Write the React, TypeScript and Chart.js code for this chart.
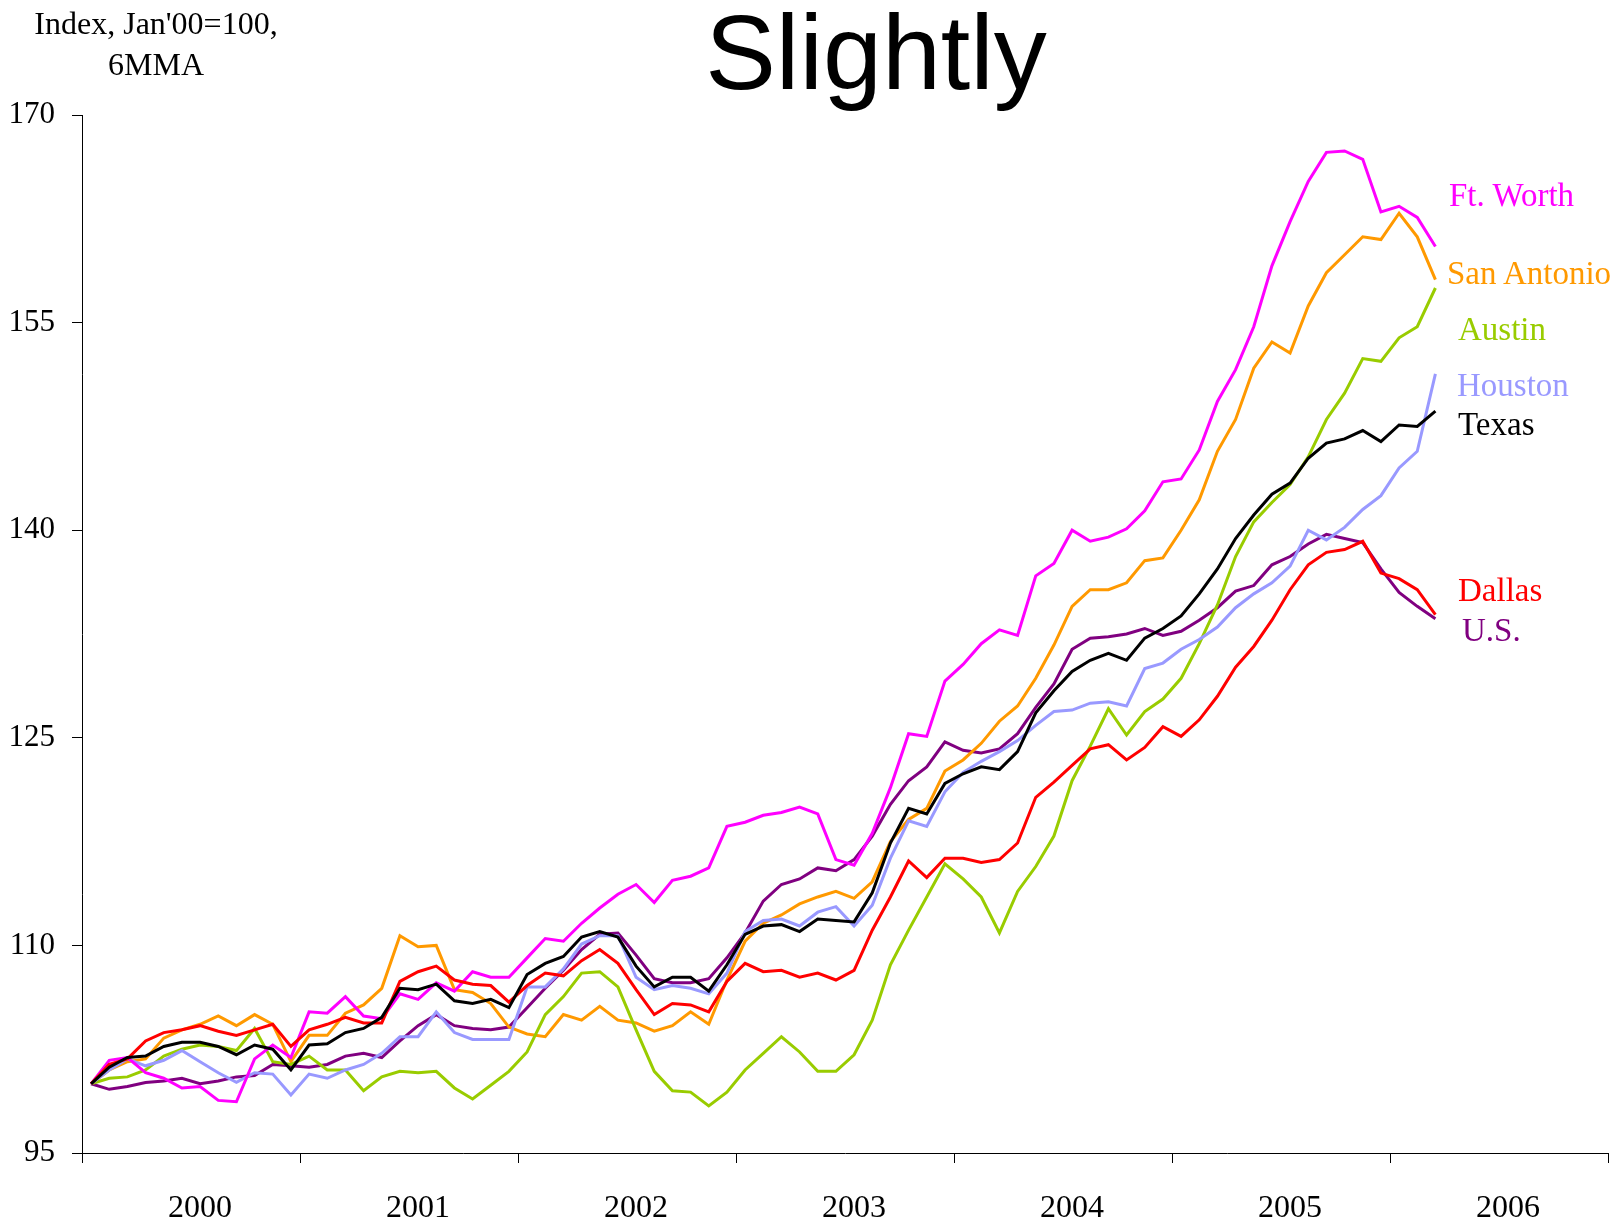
import React, { useEffect, useRef } from "react";
import { Chart, registerables } from "chart.js";

Chart.register(...registerables);

// ---- data (Index, Jan'00 = 100, 6-month moving average), monthly Jan 2000 .. Mar 2006 ----
const years = ["2000", "2001", "2002", "2003", "2004", "2005", "2006"];
const yMin = 95;
const yMax = 170;
const yStep = 15;

const texas = [
  100.0, 101.2, 101.9, 102.0, 102.7, 103.0, 103.0, 102.7, 102.1, 102.8,
  102.5, 101.0, 102.8, 102.9, 103.7, 104.0, 104.8, 106.9, 106.8, 107.2,
  106.0, 105.8, 106.1, 105.5, 107.9, 108.7, 109.2, 110.6, 111.0, 110.6,
  108.5, 107.0, 107.7, 107.7, 106.7, 108.6, 110.8, 111.4, 111.5, 111.0,
  111.9, 111.8, 111.7, 113.8, 117.4, 119.9, 119.5, 121.7, 122.4, 122.9,
  122.7, 124.0, 126.8, 128.4, 129.8, 130.6, 131.1, 130.6, 132.2, 132.9,
  133.8, 135.4, 137.2, 139.4, 141.1, 142.6, 143.4, 145.2, 146.3, 146.6,
  147.2, 146.4, 147.6, 147.5, 148.6,
];

const dallas = [
  100.0, 101.4, 101.8, 103.1, 103.7, 103.9, 104.2, 103.8, 103.5, 103.9,
  104.3, 102.7, 103.9, 104.3, 104.8, 104.4, 104.4, 107.4, 108.1, 108.5,
  107.5, 107.2, 107.1, 105.9, 107.1, 108.0, 107.8, 108.9, 109.7, 108.7,
  106.8, 105.0, 105.8, 105.7, 105.2, 107.4, 108.7, 108.1, 108.2, 107.7,
  108.0, 107.5, 108.2, 111.1, 113.5, 116.1, 114.9, 116.3, 116.3, 116.0,
  116.2, 117.4, 120.7, 121.8, 123.0, 124.2, 124.5, 123.4, 124.3, 125.8,
  125.1, 126.3, 128.0, 130.1, 131.6, 133.5, 135.7, 137.5, 138.4, 138.6,
  139.2, 136.9, 136.5, 135.7, 133.9,
];

const ftWorth = [
  100.0, 101.7, 101.9, 100.8, 100.4, 99.7, 99.8, 98.8, 98.7, 101.8,
  102.8, 101.9, 105.2, 105.1, 106.3, 104.9, 104.7, 106.5, 106.1, 107.3,
  106.7, 108.1, 107.7, 107.7, 109.1, 110.5, 110.3, 111.6, 112.7, 113.7,
  114.4, 113.1, 114.7, 115.0, 115.6, 118.6, 118.9, 119.4, 119.6, 120.0,
  119.5, 116.2, 115.8, 118.1, 121.4, 125.3, 125.1, 129.1, 130.3, 131.8,
  132.8, 132.4, 136.7, 137.6, 140.0, 139.2, 139.5, 140.1, 141.4, 143.5,
  143.7, 145.8, 149.3, 151.6, 154.7, 159.1, 162.3, 165.2, 167.3, 167.4,
  166.8, 163.0, 163.4, 162.6, 160.5,
];

const houston = [
  100.0, 101.0, 101.8, 101.3, 101.7, 102.4, 101.6, 100.8, 100.1, 100.8,
  100.7, 99.2, 100.7, 100.4, 101.0, 101.4, 102.2, 103.4, 103.4, 105.2,
  103.7, 103.2, 103.2, 103.2, 107.0, 107.0, 108.3, 110.1, 110.7, 110.7,
  107.7, 106.8, 107.1, 106.9, 106.5, 108.0, 111.0, 111.8, 111.9, 111.4,
  112.4, 112.8, 111.4, 112.9, 116.3, 119.0, 118.6, 121.1, 122.5, 123.3,
  124.0, 124.8, 125.9, 126.9, 127.0, 127.5, 127.6, 127.3, 130.0, 130.4,
  131.4, 132.1, 133.0, 134.4, 135.4, 136.2, 137.4, 140.0, 139.3, 140.2,
  141.5, 142.5, 144.5, 145.7, 151.3,
];

const austin = [
  100.0, 100.4, 100.5, 101.0, 102.0, 102.5, 102.8, 102.7, 102.4, 104.0,
  101.6, 101.4, 102.0, 101.0, 101.0, 99.5, 100.5, 100.9, 100.8, 100.9,
  99.7, 98.9, 99.9, 100.9, 102.3, 105.0, 106.3, 108.0, 108.1, 107.0,
  103.9, 100.9, 99.5, 99.4, 98.4, 99.4, 101.0, 102.2, 103.4, 102.3,
  100.9, 100.9, 102.1, 104.6, 108.6, 111.1, 113.5, 115.9, 114.8, 113.5,
  110.9, 113.9, 115.7, 117.9, 121.9, 124.4, 127.1, 125.2, 126.9, 127.8,
  129.3, 131.8, 134.6, 138.1, 140.6, 142.0, 143.3, 145.3, 148.0, 149.9,
  152.4, 152.2, 153.9, 154.7, 157.5,
];

const sanAntonio = [
  100.0, 101.0, 101.6, 101.8, 103.3, 103.9, 104.3, 104.9, 104.2, 105.0,
  104.3, 101.6, 103.5, 103.5, 105.1, 105.7, 106.9, 110.7, 109.9, 110.0,
  106.8, 106.6, 105.8, 104.1, 103.6, 103.4, 105.0, 104.6, 105.6, 104.6,
  104.4, 103.8, 104.2, 105.2, 104.3, 107.5, 110.3, 111.6, 112.2, 113.0,
  113.5, 113.9, 113.4, 114.6, 117.5, 119.1, 119.9, 122.6, 123.4, 124.6,
  126.2, 127.3, 129.3, 131.7, 134.5, 135.7, 135.7, 136.2, 137.8, 138.0,
  140.0, 142.2, 145.7, 148.0, 151.7, 153.6, 152.8, 156.2, 158.6, 159.9,
  161.2, 161.0, 162.9, 161.2, 158.1,
];

const us = [
  100.0, 99.6, 99.8, 100.1, 100.2, 100.4, 100.0, 100.2, 100.5, 100.6,
  101.4, 101.3, 101.2, 101.4, 102.0, 102.2, 101.9, 103.1, 104.2, 105.0,
  104.2, 104.0, 103.9, 104.1, 105.5, 106.9, 108.2, 109.7, 110.8, 110.9,
  109.3, 107.6, 107.3, 107.3, 107.6, 109.1, 110.9, 113.2, 114.4, 114.8,
  115.6, 115.4, 116.2, 117.9, 120.2, 121.9, 122.9, 124.7, 124.1, 123.9,
  124.2, 125.3, 127.2, 128.9, 131.4, 132.2, 132.3, 132.5, 132.9, 132.4,
  132.7, 133.5, 134.4, 135.6, 136.0, 137.5, 138.1, 139.0, 139.7, 139.4,
  139.1, 137.2, 135.5, 134.5, 133.6,
];

const seriesNames = ["Texas", "Dallas", "Ft. Worth", "Houston", "Austin", "San Antonio", "U.S."];
const seriesValues = [texas, dallas, ftWorth, houston, austin, sanAntonio, us];
const seriesColors = ["#000000", "#FF0000", "#FF00FF", "#9999FF", "#99CC00", "#FF9900", "#800080"];

// ---- layout / styling (pixels) ----
const W = 1614;
const H = 1219;
const PLOT_LEFT = 82;
const PLOT_RIGHT = 1608;
const PLOT_TOP = 115;
const PLOT_BOTTOM = 1153;
const SERIF = "'Liberation Serif', 'Times New Roman', Times, serif";
const SANS = "'Liberation Sans', Arial, Helvetica, sans-serif";

// label placement (left, baseline) per series, same order as seriesNames
const labelPos: [number, number][] = [
  [1458, 436], // Texas
  [1458, 602], // Dallas
  [1449, 207], // Ft. Worth
  [1457, 397], // Houston
  [1458, 341], // Austin
  [1447, 285], // San Antonio
  [1462, 642], // U.S.
];
const LABEL_SIZE = 33;

export default function App() {
  const canvasRef = useRef<HTMLCanvasElement | null>(null);

  useEffect(() => {
    const canvas = canvasRef.current;
    if (!canvas) return;
    const monthsTotal = years.length * 12;
    const halfMonthPx = (PLOT_RIGHT - PLOT_LEFT) / monthsTotal / 2;
    const chart = new Chart(canvas, {
      type: "line",
      data: {
        labels: years,
        datasets: seriesNames.map((name, k) => ({
          label: name,
          data: seriesValues[k].map((v, i) => ({ x: i + 0.5, y: v })),
          borderColor: seriesColors[k],
          backgroundColor: seriesColors[k],
          borderWidth: 3,
          pointRadius: 0,
          pointHoverRadius: 0,
          tension: 0,
          fill: false,
          xAxisID: "xm",
          yAxisID: "y",
        })),
      },
      options: {
        responsive: false,
        animation: false,
        events: [],
        layout: {
          padding: { left: 0, right: W - PLOT_RIGHT, top: PLOT_TOP, bottom: 0 },
        },
        plugins: {
          legend: { display: false },
          title: { display: false },
          tooltip: { enabled: false },
        },
        scales: {
          x: {
            type: "category",
            position: "bottom",
            offset: true,
            grid: {
              offset: true,
              drawOnChartArea: false,
              drawTicks: true,
              tickLength: 10,
              color: "#000",
              lineWidth: 1,
            },
            border: { display: true, color: "#000", width: 1 },
            ticks: {
              color: "#000",
              font: { family: SERIF, size: 32 },
              padding: 26,
              labelOffset: halfMonthPx,
              maxRotation: 0,
              autoSkip: false,
            },
            afterFit: (s: any) => {
              s.height = H - PLOT_BOTTOM;
            },
          },
          xm: {
            type: "linear",
            display: false,
            min: 0,
            max: monthsTotal,
          },
          y: {
            type: "linear",
            position: "left",
            min: yMin,
            max: yMax,
            ticks: {
              stepSize: yStep,
              color: "#000",
              font: { family: SERIF, size: 31 },
              padding: 17,
            },
            grid: {
              drawOnChartArea: false,
              drawTicks: true,
              tickLength: 10,
              color: "#000",
              lineWidth: 1,
            },
            border: { display: true, color: "#000", width: 1 },
            afterFit: (s: any) => {
              s.width = PLOT_LEFT;
            },
          },
        },
      } as any,
    });
    return () => chart.destroy();
  }, []);

  const serifBaseline = 0.8375;
  const sansBaseline = 0.8465;

  return (
    <div
      style={{
        position: "fixed",
        left: 0,
        top: 0,
        width: W,
        height: H,
        background: "#fff",
        overflow: "hidden",
      }}
    >
      <canvas ref={canvasRef} width={W} height={H} style={{ display: "block", width: W, height: H }} />
      <div
        style={{
          position: "absolute",
          left: 876,
          top: 89 - sansBaseline * 106,
          transform: "translateX(-50%)",
          fontFamily: SANS,
          fontSize: 106,
          lineHeight: 1,
          whiteSpace: "nowrap",
          color: "#000",
        }}
      >
        Slightly
      </div>
      <div
        style={{
          position: "absolute",
          left: 156,
          top: 33.5 - serifBaseline * 32,
          transform: "translateX(-50%)",
          fontFamily: SERIF,
          fontSize: 32,
          lineHeight: 1,
          whiteSpace: "nowrap",
          color: "#000",
        }}
      >
        Index, Jan'00=100,
      </div>
      <div
        style={{
          position: "absolute",
          left: 156,
          top: 75 - serifBaseline * 32,
          transform: "translateX(-50%)",
          fontFamily: SERIF,
          fontSize: 32,
          lineHeight: 1,
          whiteSpace: "nowrap",
          color: "#000",
        }}
      >
        6MMA
      </div>
      {seriesNames.map((name, k) => (
        <div
          key={name}
          style={{
            position: "absolute",
            left: labelPos[k][0],
            top: labelPos[k][1] - serifBaseline * LABEL_SIZE,
            fontFamily: SERIF,
            fontSize: LABEL_SIZE,
            lineHeight: 1,
            whiteSpace: "nowrap",
            color: seriesColors[k],
          }}
        >
          {name}
        </div>
      ))}
    </div>
  );
}
